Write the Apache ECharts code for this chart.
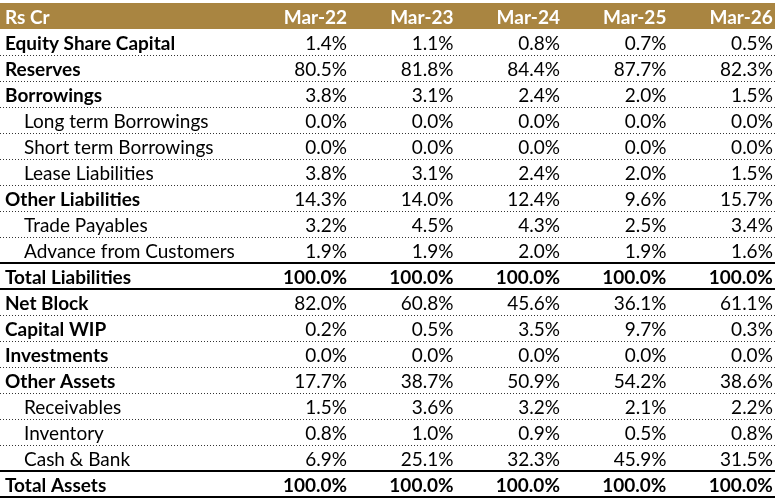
<!DOCTYPE html>
<html lang="en">
<head>
	<meta charset="UTF-8">
	<title>Balance Sheet Common Size</title>
	<style>
		html,body{background-color: #fff;height: 100%;overflow: hidden;margin: 0;padding: 0;}
		#main{position: absolute;top: 0;left: 0;width: 775px;height: 502px;}
	</style>
</head>
<body>
	<div id="main"></div>
	<script src="https://cdn.jsdelivr.net/npm/echarts@6/dist/echarts.min.js"></script>
	<script>
		// table data
		var corner = 'Rs Cr';
		var years = ['Mar-22', 'Mar-23', 'Mar-24', 'Mar-25', 'Mar-26'];
		var rows = ['Equity Share Capital', 'Reserves', 'Borrowings', 'Long term Borrowings', 'Short term Borrowings',
			'Lease Liabilities', 'Other Liabilities', 'Trade Payables', 'Advance from Customers', 'Total Liabilities',
			'Net Block', 'Capital WIP', 'Investments', 'Other Assets', 'Receivables', 'Inventory', 'Cash & Bank', 'Total Assets'];
		var subRows = ['Long term Borrowings', 'Short term Borrowings', 'Lease Liabilities', 'Trade Payables',
			'Advance from Customers', 'Receivables', 'Inventory', 'Cash & Bank'];
		var totalRows = ['Total Liabilities', 'Total Assets'];
		var mar22 = [1.4, 80.5, 3.8, 0.0, 0.0, 3.8, 14.3, 3.2, 1.9, 100.0, 82.0, 0.2, 0.0, 17.7, 1.5, 0.8, 6.9, 100.0];
		var mar23 = [1.1, 81.8, 3.1, 0.0, 0.0, 3.1, 14.0, 4.5, 1.9, 100.0, 60.8, 0.5, 0.0, 38.7, 3.6, 1.0, 25.1, 100.0];
		var mar24 = [0.8, 84.4, 2.4, 0.0, 0.0, 2.4, 12.4, 4.3, 2.0, 100.0, 45.6, 3.5, 0.0, 50.9, 3.2, 0.9, 32.3, 100.0];
		var mar25 = [0.7, 87.7, 2.0, 0.0, 0.0, 2.0, 9.6, 2.5, 1.9, 100.0, 36.1, 9.7, 0.0, 54.2, 2.1, 0.5, 45.9, 100.0];
		var mar26 = [0.5, 82.3, 1.5, 0.0, 0.0, 1.5, 15.7, 3.4, 1.6, 100.0, 61.1, 0.3, 0.0, 38.6, 2.2, 0.8, 31.5, 100.0];
		var values = [mar22, mar23, mar24, mar25, mar26];

		var FONT = 'Lato, "Open Sans", sans-serif';
		var GOLD = '#A98541';
		var X_MIN = -2.26, X_MAX = 5.02; // year column i ends at x = i + 1

		var yCats = [corner].concat(rows);

		// cells: [x, rowIndex], text kept alongside
		var cellData = [], cellText = [];
		yCats.forEach(function (name, r) {
			cellData.push([X_MIN, r]);
			cellText.push(name);
			for (var c = 0; c < years.length; c++) {
				cellData.push([c + 1, r]);
				cellText.push(r === 0 ? years[c] : values[c][r - 1].toFixed(1) + '%');
			}
		});

		// separators under each row
		var lineData = [];
		for (var r = 1; r < yCats.length; r++) {
			lineData.push([X_MIN, r]);
		}

		var chart = echarts.init(document.getElementById('main'));
		chart.setOption({
			animation: false,
			grid: {left: 0, right: 0, top: 3, bottom: 5},
			xAxis: {type: 'value', min: X_MIN, max: X_MAX, show: false},
			yAxis: {type: 'category', data: yCats, inverse: true, show: false},
			series: [{
				type: 'custom',
				coordinateSystem: 'cartesian2d',
				clip: false,
				silent: true,
				data: [[X_MIN, 0]],
				renderItem: function (params, api) {
					var p0 = api.coord([X_MIN, 0]);
					var p1 = api.coord([X_MAX, 0]);
					var h = api.size([0, 1])[1];
					return {
						type: 'rect',
						shape: {x: p0[0], y: p0[1] - h / 2, width: p1[0] - p0[0], height: h},
						style: {fill: GOLD}
					};
				}
			}, {
				type: 'custom',
				coordinateSystem: 'cartesian2d',
				clip: false,
				silent: true,
				data: lineData,
				renderItem: function (params, api) {
					var r = api.value(1);
					var name = yCats[r];
					var next = yCats[r + 1];
					var p0 = api.coord([X_MIN, r]);
					var p1 = api.coord([X_MAX, r]);
					var h = api.size([0, 1])[1];
					var solid = totalRows.indexOf(name) >= 0 || totalRows.indexOf(next) >= 0;
					var y = Math.round(p0[1] + h / 2);
					if (solid) {
						return {
							type: 'line',
							shape: {x1: p0[0], y1: y, x2: p1[0], y2: y},
							style: {stroke: '#000', lineWidth: 2}
						};
					}
					return {
						type: 'line',
						shape: {x1: p0[0], y1: y + 0.5, x2: p1[0], y2: y + 0.5},
						style: {stroke: '#333', lineWidth: 1, lineDash: [1, 2]}
					};
				}
			}, {
				type: 'custom',
				coordinateSystem: 'cartesian2d',
				clip: false,
				silent: true,
				data: cellData,
				renderItem: function (params, api) {
					var x = api.value(0), r = api.value(1);
					var p = api.coord([x, r]);
					var text = cellText[params.dataIndex];
					var rowName = yCats[r];
					var isHead = r === 0;
					var isLabel = x === X_MIN;
					var isSub = subRows.indexOf(rowName) >= 0;
					var isTotal = totalRows.indexOf(rowName) >= 0;
					var bold = isHead || isTotal || (isLabel && !isSub);
					return {
						type: 'text',
						x: isLabel ? p[0] + (isSub ? 24 : 5) : p[0],
						y: p[1] + 2,
						style: {
							text: text,
							fill: isHead ? '#fff' : '#000',
							font: (bold ? 'bold ' : '') + '19px ' + FONT,
							align: isLabel ? 'left' : 'right',
							verticalAlign: 'middle'
						}
					};
				}
			}]
		});
	</script>
</body>
</html>
